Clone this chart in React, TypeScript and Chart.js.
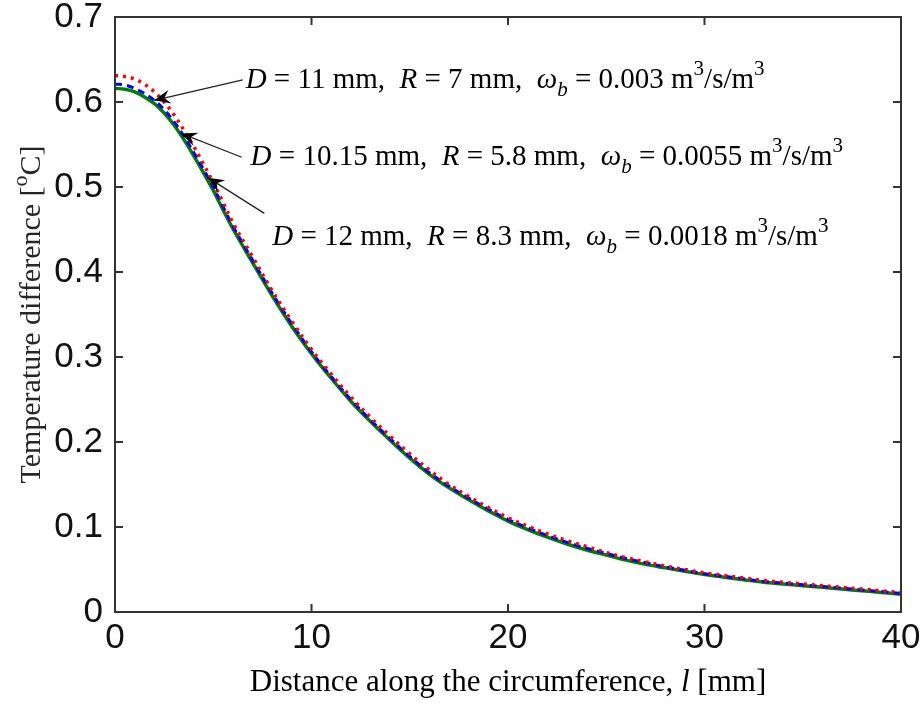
import React, { useEffect, useRef } from "react";
import { Chart, registerables } from "chart.js";

Chart.register(...registerables);

// ---- data ----
const distance = [0,0.5,1,1.5,2,2.5,3,3.5,4,4.5,5,5.5,6,7,8,9,10,11,12,13,14,15,16,17,18,19,20,21,22,23,24,25,26,27,28,29,30,31,32,33,34,35,36,37,38,39,40];
const tempBlue = [0.621,0.620,0.616,0.610,0.602,0.591,0.577,0.560,0.541,0.521,0.500,0.477,0.454,0.414,0.375,0.339,0.306,0.277,0.250,0.226,0.204,0.183,0.164,0.148,0.134,0.121,0.109,0.099,0.090,0.082,0.075,0.069,0.063,0.058,0.053,0.049,0.045,0.042,0.039,0.036,0.034,0.032,0.030,0.028,0.026,0.024,0.022];
const tempGreen = [0.616,0.615,0.612,0.606,0.598,0.587,0.573,0.556,0.537,0.517,0.496,0.473,0.451,0.411,0.372,0.336,0.304,0.275,0.248,0.224,0.202,0.181,0.162,0.146,0.132,0.119,0.107,0.097,0.088,0.080,0.073,0.067,0.061,0.056,0.052,0.048,0.044,0.041,0.038,0.035,0.033,0.031,0.029,0.027,0.025,0.023,0.021];
const tempRed = [0.631,0.630,0.627,0.621,0.612,0.600,0.585,0.567,0.548,0.527,0.505,0.482,0.458,0.418,0.378,0.342,0.309,0.280,0.253,0.229,0.207,0.186,0.167,0.150,0.136,0.123,0.111,0.101,0.092,0.084,0.077,0.070,0.064,0.059,0.054,0.050,0.046,0.043,0.040,0.037,0.035,0.033,0.031,0.029,0.027,0.025,0.023];

const xTickValues = [0, 10, 20, 30, 40];
const yTickValues = [0, 0.1, 0.2, 0.3, 0.4, 0.5, 0.6, 0.7];

// annotation arrow targets (data coords) and tails / text anchors (data coords)
const arrowTargetL = [2.0, 3.36, 4.73];
const arrowTargetT = [0.602, 0.563, 0.511];
const arrowTailL = [6.5, 6.45, 7.6];
const arrowTailT = [0.626, 0.535, 0.469];
const labelL = [6.65, 6.9, 8.0];
const labelT = [0.626, 0.535, 0.441];
const labelD = ["11", "10.15", "12"];
const labelR = ["7", "5.8", "8.3"];
const labelOmega = ["0.003", "0.0055", "0.0018"];

const xTitleMain = "Distance along the circumference, ";
const xTitleVar = "l";
const xTitleUnit = " [mm]";
const yTitleMain = "Temperature difference [";
const yTitleSup = "o";
const yTitleEnd = "C]";

type Seg = { t: string; i?: boolean; sub?: boolean; sup?: boolean };

const SERIF = '"Liberation Serif", "Times New Roman", serif';
const SANS = '"Liberation Sans", Arial, sans-serif';

function segFont(s: Seg, size: number) {
  const sz = s.sub || s.sup ? Math.round(size * 0.72) : size;
  return `${s.i ? "italic " : ""}${sz}px ${SERIF}`;
}

function drawRich(ctx: CanvasRenderingContext2D, segs: Seg[], x: number, y: number, size: number) {
  let cx = x;
  ctx.textBaseline = "middle";
  ctx.textAlign = "left";
  for (const s of segs) {
    ctx.font = segFont(s, size);
    let dy = 0;
    if (s.sub) dy = size * 0.36;
    if (s.sup) dy = -size * 0.36;
    ctx.fillText(s.t, cx, y + dy);
    cx += ctx.measureText(s.t).width;
  }
  return cx - x;
}

function richWidth(ctx: CanvasRenderingContext2D, segs: Seg[], size: number) {
  let w = 0;
  for (const s of segs) {
    ctx.font = segFont(s, size);
    w += ctx.measureText(s.t).width;
  }
  return w;
}

const overlayPlugin = {
  id: "overlay",
  afterDraw(chart: any) {
    const ctx: CanvasRenderingContext2D = chart.ctx;
    const { left, right, top, bottom } = chart.chartArea;
    const xs = chart.scales.x;
    const ys = chart.scales.y;
    ctx.save();
    // box
    ctx.strokeStyle = "#333333";
    ctx.lineWidth = 2;
    ctx.strokeRect(left, top, right - left, bottom - top);
    // inward ticks
    const tl = 8;
    ctx.beginPath();
    for (const v of xTickValues) {
      const px = xs.getPixelForValue(v);
      ctx.moveTo(px, bottom);
      ctx.lineTo(px, bottom - tl);
      ctx.moveTo(px, top);
      ctx.lineTo(px, top + tl);
    }
    for (const v of yTickValues) {
      const py = ys.getPixelForValue(v);
      ctx.moveTo(left, py);
      ctx.lineTo(left + tl, py);
      ctx.moveTo(right, py);
      ctx.lineTo(right - tl, py);
    }
    ctx.stroke();

    // arrows
    ctx.strokeStyle = "#222222";
    ctx.fillStyle = "#000000";
    ctx.lineWidth = 1.3;
    for (let k = 0; k < arrowTargetL.length; k++) {
      const x1 = xs.getPixelForValue(arrowTailL[k]);
      const y1 = ys.getPixelForValue(arrowTailT[k]);
      const x2 = xs.getPixelForValue(arrowTargetL[k]);
      const y2 = ys.getPixelForValue(arrowTargetT[k]);
      ctx.beginPath();
      ctx.moveTo(x1, y1);
      ctx.lineTo(x2, y2);
      ctx.stroke();
      const ang = Math.atan2(y2 - y1, x2 - x1);
      const hl = 16, hw = 7;
      ctx.beginPath();
      ctx.moveTo(x2, y2);
      ctx.lineTo(x2 - hl * Math.cos(ang) + hw * Math.sin(ang), y2 - hl * Math.sin(ang) - hw * Math.cos(ang));
      ctx.lineTo(x2 - hl * 0.65 * Math.cos(ang), y2 - hl * 0.65 * Math.sin(ang));
      ctx.lineTo(x2 - hl * Math.cos(ang) - hw * Math.sin(ang), y2 - hl * Math.sin(ang) + hw * Math.cos(ang));
      ctx.closePath();
      ctx.fill();
    }

    // annotation text
    ctx.fillStyle = "#000000";
    for (let k = 0; k < labelL.length; k++) {
      const segs: Seg[] = [
        { t: "D", i: true },
        { t: ` = ${labelD[k]} mm,  ` },
        { t: "R", i: true },
        { t: ` = ${labelR[k]} mm,  ` },
        { t: "ω", i: true },
        { t: "b", i: true, sub: true },
        { t: ` = ${labelOmega[k]} m` },
        { t: "3", sup: true },
        { t: "/s/m" },
        { t: "3", sup: true },
      ];
      drawRich(ctx, segs, xs.getPixelForValue(labelL[k]), ys.getPixelForValue(labelT[k]), 29);
    }

    // x title
    const xsegs: Seg[] = [{ t: xTitleMain }, { t: xTitleVar, i: true }, { t: xTitleUnit }];
    const xsize = 31;
    const xw = richWidth(ctx, xsegs, xsize);
    drawRich(ctx, xsegs, (left + right) / 2 - xw / 2, 683, xsize);

    // y title (rotated)
    const ysegs: Seg[] = [{ t: yTitleMain }, { t: yTitleSup, sup: true }, { t: yTitleEnd }];
    const ysize = 30;
    const yw = richWidth(ctx, ysegs, ysize);
    ctx.save();
    ctx.translate(32, (top + bottom) / 2);
    ctx.rotate(-Math.PI / 2);
    ctx.fillStyle = "#262626";
    drawRich(ctx, ysegs, -yw / 2, 0, ysize);
    ctx.restore();

    ctx.restore();
  },
};

export default function App() {
  const ref = useRef<HTMLCanvasElement | null>(null);
  useEffect(() => {
    if (!ref.current) return;
    const mk = (vals: number[]) => distance.map((l, i) => ({ x: l, y: vals[i] }));
    const chart = new Chart(ref.current, {
      type: "line",
      data: {
        datasets: [
          {
            label: "D = 11 mm",
            data: mk(tempRed),
            borderColor: "#ff0000",
            borderWidth: 3.5,
            borderDash: [3, 5],
            pointRadius: 0,
            tension: 0.35,
            fill: false,
            order: 1,
          },
          {
            label: "D = 10.15 mm",
            data: mk(tempBlue),
            borderColor: "#0000ff",
            borderWidth: 3,
            borderDash: [7, 5],
            pointRadius: 0,
            tension: 0.35,
            fill: false,
            order: 2,
          },
          {
            label: "D = 12 mm",
            data: mk(tempGreen),
            borderColor: "#008000",
            borderWidth: 3.5,
            pointRadius: 0,
            tension: 0.35,
            fill: false,
            order: 3,
          },
        ],
      },
      options: {
        animation: false,
        responsive: false,
        maintainAspectRatio: false,
        layout: { padding: { left: 0, top: 17, right: 22, bottom: 0 } },
        plugins: { legend: { display: false }, tooltip: { enabled: false } },
        scales: {
          x: {
            type: "linear",
            min: 0,
            max: 40,
            grid: { display: false, drawTicks: false },
            border: { display: false },
            ticks: {
              stepSize: 10,
              padding: 5,
              color: "#111111",
              font: { family: SANS, size: 35 },
              maxRotation: 0,
            },
            afterFit: (s: any) => {
              s.height = 92;
              s.paddingLeft = 0;
              s.paddingRight = 0;
            },
          },
          y: {
            type: "linear",
            min: 0,
            max: 0.7,
            grid: { display: false, drawTicks: false },
            border: { display: false },
            ticks: {
              stepSize: 0.1,
              padding: 12,
              color: "#111111",
              font: { family: SANS, size: 35 },
              callback: (v: any) => String(Math.round(Number(v) * 10) / 10),
            },
            afterFit: (s: any) => {
              s.width = 115;
              s.paddingTop = 0;
              s.paddingBottom = 0;
            },
          },
        },
      },
      plugins: [overlayPlugin],
    });
    return () => chart.destroy();
  }, []);
  return (
    <div style={{ position: "fixed", left: 0, top: 0, width: 923, height: 704, background: "#fff" }}>
      <canvas ref={ref} width={923} height={704} style={{ width: 923, height: 704, display: "block" }} />
    </div>
  );
}
